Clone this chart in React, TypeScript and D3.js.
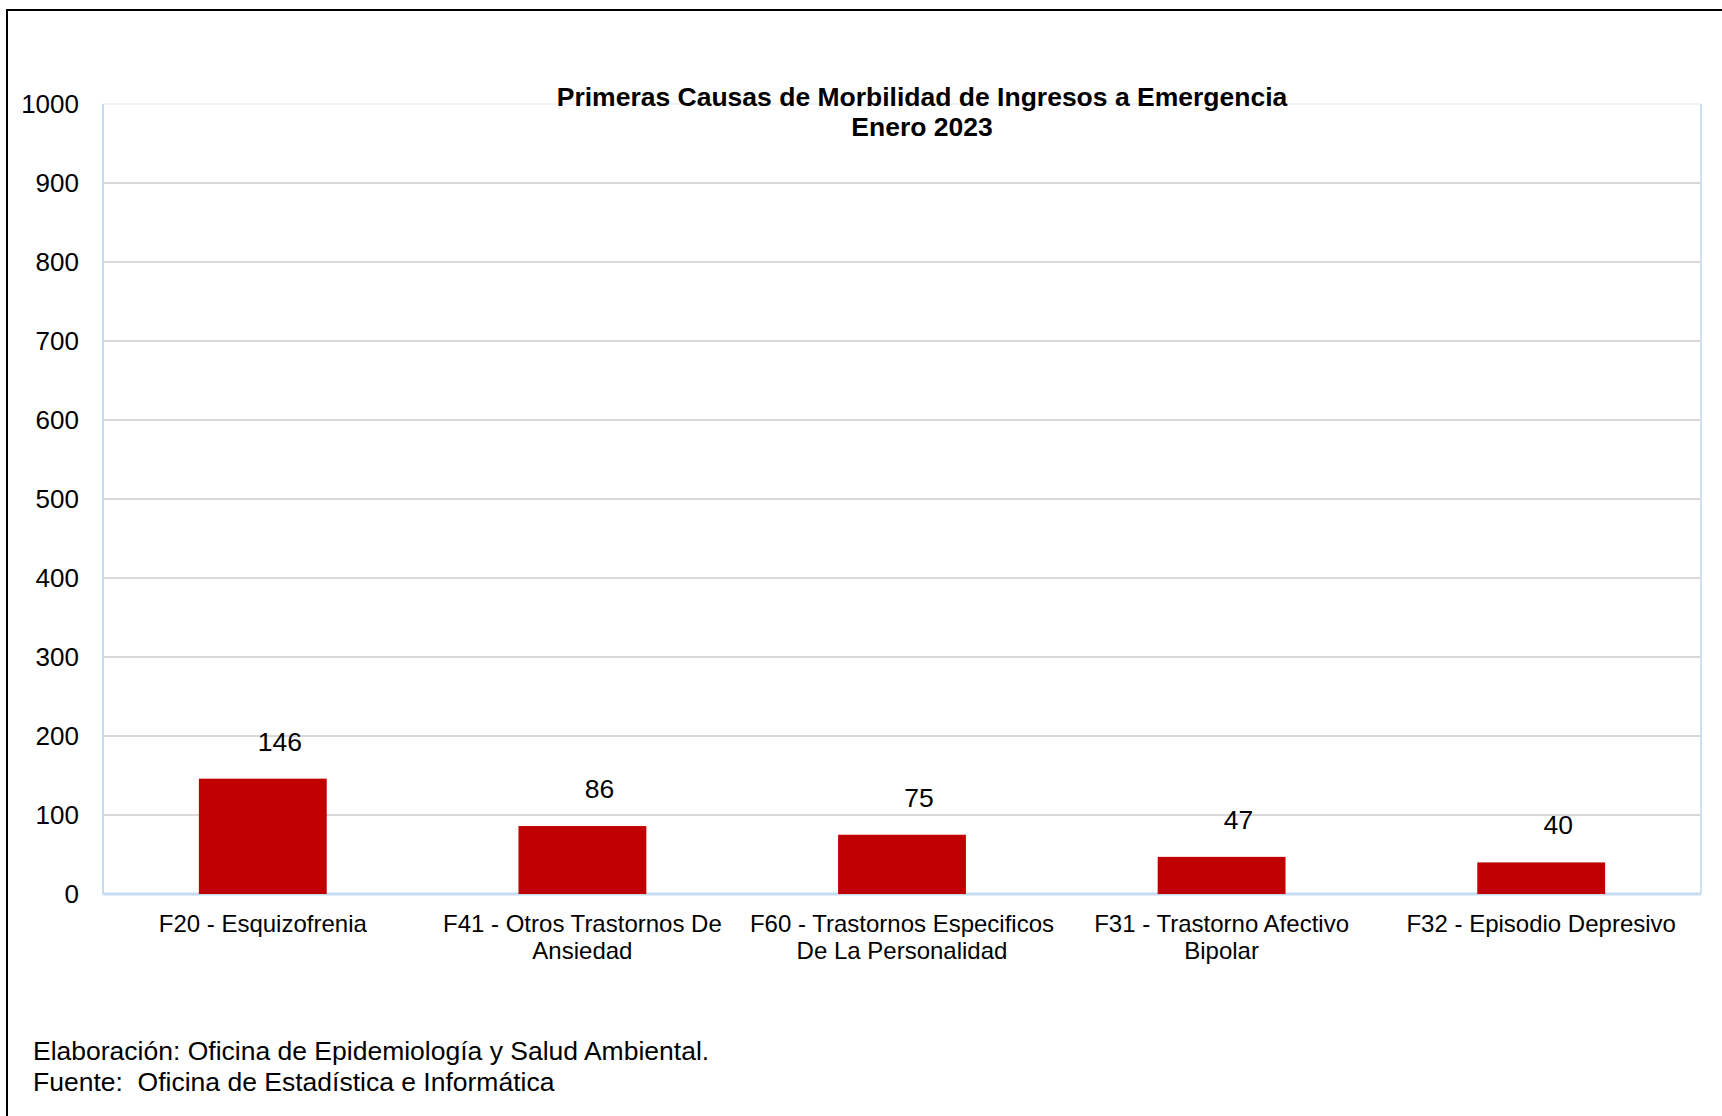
import React from "react";
import * as d3 from "d3";

const categories: string[][] = [
  ["F20 - Esquizofrenia"],
  ["F41 - Otros Trastornos De", "Ansiedad"],
  ["F60 - Trastornos Especificos", "De La Personalidad"],
  ["F31 - Trastorno Afectivo", "Bipolar"],
  ["F32 - Episodio Depresivo"],
];
const values: number[] = [146, 86, 75, 47, 40];
const yTicks: number[] = [0, 100, 200, 300, 400, 500, 600, 700, 800, 900, 1000];
const titleLines: string[] = [
  "Primeras Causas de Morbilidad de Ingresos a Emergencia",
  "Enero 2023",
];
const footerLines: string[] = [
  "Elaboración: Oficina de Epidemiología y Salud Ambiental.",
  "Fuente:  Oficina de Estadística e Informática",
];

const W = 1722;
const H = 1116;
const plot = { left: 103, right: 1701, top: 104, bottom: 894 };
const FONT = "'Liberation Sans', Arial, Helvetica, sans-serif";

export default function App() {
  const keys = categories.map((c) => c.join(" "));
  const x = d3
    .scaleBand<string>()
    .domain(keys)
    .range([plot.left, plot.right])
    .paddingInner(0.6)
    .paddingOuter(0.3);
  const y = d3.scaleLinear().domain([0, 1000]).range([plot.bottom, plot.top]);

  return (
    <div style={{ position: "absolute", left: 0, top: 0 }}>
      <svg width={W} height={H} style={{ display: "block" }}>
        <rect x={0} y={0} width={W} height={H} fill="#ffffff" />
        {/* outer frame */}
        <rect x={7} y={10} width={W + 20} height={H + 20} fill="none" stroke="#000" strokeWidth={2} />

        {/* plot border (faint) */}
        <line x1={plot.left} x2={plot.right} y1={plot.top} y2={plot.top} stroke="#eef4fa" strokeWidth={2} />
        <line x1={plot.right} x2={plot.right} y1={plot.top} y2={plot.bottom} stroke="#cfe0f1" strokeWidth={2} />

        {/* gridlines */}
        {yTicks.filter((t) => t > 0 && t < 1000).map((t) => (
          <line key={t} x1={plot.left} x2={plot.right} y1={y(t)} y2={y(t)} stroke="#d9d9d9" strokeWidth={2} />
        ))}

        {/* axes */}
        <line x1={plot.left} x2={plot.left} y1={plot.top} y2={plot.bottom} stroke="#c5dbf0" strokeWidth={2} />
        <line x1={plot.left} x2={plot.right} y1={y(0)} y2={y(0)} stroke="#c5dbf0" strokeWidth={3} />

        {/* y tick labels */}
        {yTicks.map((t) => (
          <text
            key={t}
            x={79}
            y={y(t)}
            dy="0.36em"
            textAnchor="end"
            fontFamily={FONT}
            fontSize={26}
            fill="#000"
          >
            {t}
          </text>
        ))}

        {/* bars */}
        {values.map((v, i) => (
          <rect
            key={keys[i]}
            x={x(keys[i])!}
            y={y(v)}
            width={x.bandwidth()}
            height={y(0) - y(v)}
            fill="#c00000"
          />
        ))}

        {/* value labels */}
        {values.map((v, i) => (
          <text
            key={"v" + i}
            x={x(keys[i])! + x.bandwidth() / 2 + 17}
            y={y(v) - 28}
            textAnchor="middle"
            fontFamily={FONT}
            fontSize={26.5}
            fill="#000"
          >
            {v}
          </text>
        ))}

        {/* category labels */}
        {categories.map((lines, i) => (
          <text
            key={"c" + i}
            textAnchor="middle"
            fontFamily={FONT}
            fontSize={24}
            fill="#000"
          >
            {lines.map((l, j) => (
              <tspan key={j} x={x(keys[i])! + x.bandwidth() / 2} y={932 + j * 27}>
                {l}
              </tspan>
            ))}
          </text>
        ))}

        {/* title */}
        {titleLines.map((l, j) => (
          <text
            key={"t" + j}
            x={922}
            y={106 + j * 30}
            textAnchor="middle"
            fontFamily={FONT}
            fontSize={26.5}
            fontWeight="bold"
            fill="#000"
          >
            {l}
          </text>
        ))}

        {/* footer */}
        {footerLines.map((l, j) => (
          <text
            key={"f" + j}
            x={33}
            y={1060 + j * 31}
            fontFamily={FONT}
            fontSize={26.5}
            fill="#000"
            style={{ whiteSpace: "pre" }}
          >
            {l}
          </text>
        ))}
      </svg>
    </div>
  );
}
